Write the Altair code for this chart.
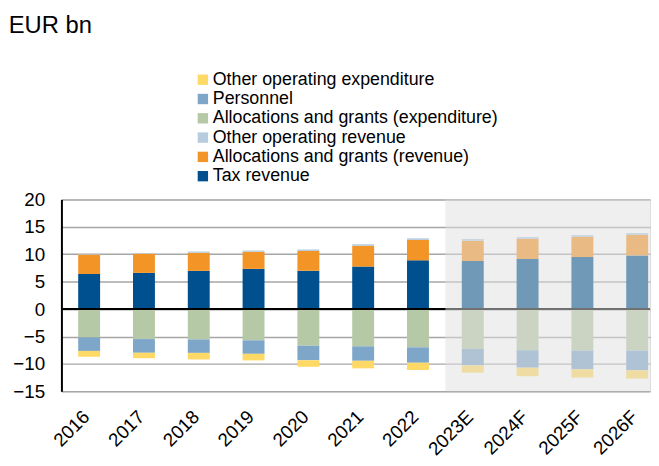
import altair as alt
import pandas as pd

years = ["2016", "2017", "2018", "2019", "2020", "2021", "2022",
         "2023E", "2024F", "2025F", "2026F"]

tax_revenue = [6.4, 6.6, 6.97, 7.33, 6.97, 7.75, 8.89, 8.77, 9.13, 9.49, 9.79]
alloc_revenue = [3.55, 3.5, 3.3, 3.12, 3.6, 3.78, 3.72, 3.66, 3.66, 3.66, 3.72]
other_revenue = [0.1, 0.1, 0.24, 0.24, 0.3, 0.3, 0.3, 0.36, 0.36, 0.36, 0.36]
alloc_expenditure = [-5.17, -5.47, -5.53, -5.7, -6.67, -6.79, -6.97, -7.27, -7.51, -7.57, -7.57]
personnel = [-2.46, -2.5, -2.46, -2.46, -2.64, -2.64, -2.82, -3.0, -3.18, -3.42, -3.6]
other_expenditure = [-1.07, -1.0, -1.2, -1.2, -1.2, -1.38, -1.32, -1.32, -1.56, -1.5, -1.5]

y_ticks = [-15, -10, -5, 0, 5, 10, 15, 20]

series_names = [
    "Other operating expenditure",
    "Personnel",
    "Allocations and grants (expenditure)",
    "Other operating revenue",
    "Allocations and grants (revenue)",
    "Tax revenue",
]
series_colors = ["#ffd966", "#7ea6c9", "#b6c9a6", "#b8cce0", "#f39426", "#00508f"]

series_values = {
    "Tax revenue": (tax_revenue, 1),
    "Allocations and grants (revenue)": (alloc_revenue, 2),
    "Other operating revenue": (other_revenue, 3),
    "Allocations and grants (expenditure)": (alloc_expenditure, 1),
    "Personnel": (personnel, 2),
    "Other operating expenditure": (other_expenditure, 3),
}

rows = []
for name, (vals, order) in series_values.items():
    for yr, v in zip(years, vals):
        rows.append({"year": yr, "series": name, "value": v, "order": order})
df = pd.DataFrame(rows)

FONT = "Liberation Sans"
W, H = 595, 194
P_IN, P_OUT = 0.6, 0.17
step = W / (len(years) - P_IN + 2 * P_OUT)

xscale = alt.Scale(domain=years, paddingInner=P_IN, paddingOuter=P_OUT, align=0.9)

bars = alt.Chart(df).mark_bar().encode(
    x=alt.X("year:N", scale=xscale, sort=years,
            axis=alt.Axis(title=None, labelAngle=-45, labelFontSize=19, labelFont=FONT,
                          labelColor="black", ticks=False, domain=False, grid=False,
                          labelPadding=16, labelOverlap=False, labelOffset=-9)),
    y=alt.Y("value:Q", stack="zero",
            scale=alt.Scale(domain=[-15, 20], nice=False),
            axis=alt.Axis(title=None, values=y_ticks, tickCount=len(y_ticks) + 2,
                          labelFontSize=19, labelFont=FONT, labelColor="black",
                          labelOverlap=False, labelFlush=False,
                          ticks=False, domain=True, domainColor="black", domainWidth=2,
                          gridColor="#a6a6a6", gridWidth=1.5, labelPadding=17)),
    color=alt.Color("series:N",
                    scale=alt.Scale(domain=series_names, range=series_colors),
                    legend=alt.Legend(title=None, orient="none", legendX=134, legendY=-130,
                                      symbolType="square", symbolSize=110, symbolStrokeWidth=0,
                                      labelFontSize=18, labelFont=FONT, labelColor="black",
                                      labelOffset=1, rowPadding=1.5, labelLimit=400)),
    order=alt.Order("order:Q"),
)

zero = alt.Chart(pd.DataFrame({"v": [0]})).mark_rule(color="black", strokeWidth=2).encode(
    y=alt.datum(0)
)

shade = alt.Chart(pd.DataFrame({"start": ["2023E"]})).mark_rect(
    color="#e0e0e0", opacity=0.5, xOffset=-P_IN * step / 2
).encode(
    x=alt.X("start:N", scale=xscale, bandPosition=0),
    x2=alt.value("width"),
    y=alt.value(0),
    y2=alt.value("height"),
)

chart = alt.layer(bars, zero, shade).properties(
    width=W, height=H,
    padding={"left": 0, "top": 4, "right": 0, "bottom": 5},
    title=alt.Title("EUR bn", anchor="start", frame="bounds", fontSize=24, font=FONT,
                    fontWeight="normal", color="black", offset=33, dx=-4),
).configure_view(stroke=None).configure(background="white").configure_axisY(
    labelOverlap=False
)

chart.save("out.html", embed_options={"renderer": "svg", "actions": False})
